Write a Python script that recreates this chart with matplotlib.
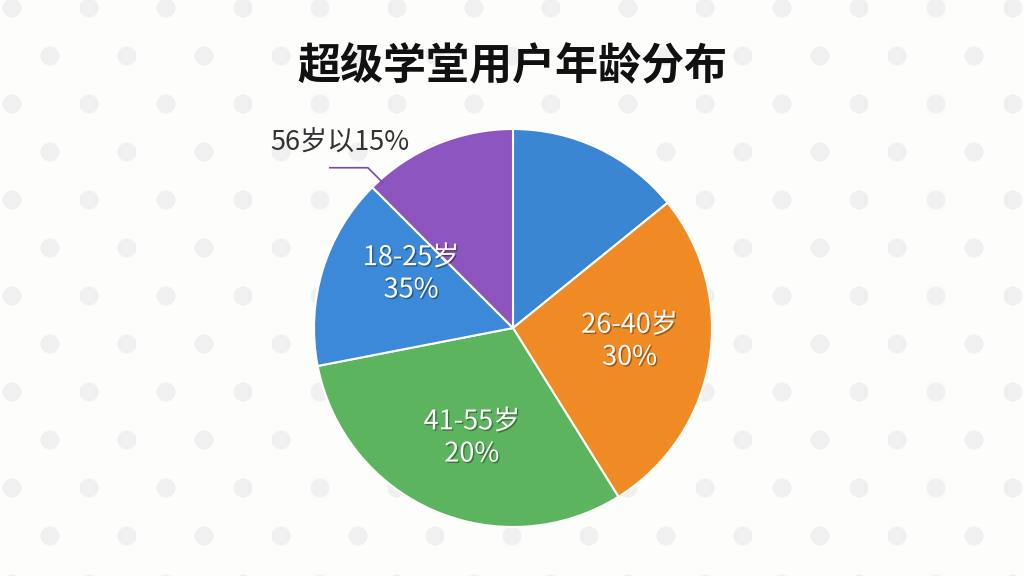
import numpy as np
import matplotlib
matplotlib.use("Agg")
import matplotlib.pyplot as plt
import matplotlib.patheffects as pe

plt.rcParams['font.family'] = ['Noto Sans CJK SC', 'DejaVu Sans']

# wedge sizes as drawn (degrees of the circle), clockwise from 12 o'clock
groups = ["(无标签)", "26-40岁", "41-55岁", "18-25岁", "56岁以上"]
sizes = [51, 97, 111, 56, 45]
shown_text = ["", "26-40岁\n30%", "41-55岁\n20%", "18-25岁\n35%", "56岁以15%"]
colors = ["#3a86d2", "#f08a24", "#5cb55e", "#3b89d8", "#8d55bf"]

title = "超级学堂用户年龄分布"

W, H = 1024, 576
fig = plt.figure(figsize=(W / 100, H / 100), dpi=100)
fig.patch.set_facecolor("#fdfdfc")
ax = fig.add_axes([0, 0, 1, 1])

# dotted background
for j, yy in enumerate(np.arange(8, H + 20, 48)):
    off = 0 if j % 2 == 0 else 38
    for xx in np.arange(12 + off, W + 20, 77):
        ax.add_patch(plt.Circle((xx, H - yy), 9.5, color="#f0f0f0", lw=0, zorder=0))

cx, cy, R = 513, H - 328, 199
wedges, _ = ax.pie(sizes, colors=colors, startangle=90, counterclock=False,
                   center=(cx, cy), radius=R, frame=True,
                   wedgeprops=dict(edgecolor="white", linewidth=1.5))
ax.set_xlim(0, W)
ax.set_ylim(0, H)
ax.set_aspect("equal")
ax.axis("off")

# inside labels: radius fraction and angle nudge per wedge
r_frac = [0, 0.59, 0.59, 0.58, 0]
nudge = [0, 3, 3, -11, 0]
shadow = [pe.withSimplePatchShadow(offset=(1, -1), shadow_rgbFace="black", alpha=0.35)]
for w, txt, rf, dn in zip(wedges, shown_text, r_frac, nudge):
    if rf == 0:
        continue
    mid = np.deg2rad((w.theta1 + w.theta2) / 2 + dn)
    ax.text(cx + rf * R * np.cos(mid), cy + rf * R * np.sin(mid), txt,
            ha="center", va="center", color="white", fontsize=19.5,
            linespacing=1.25, path_effects=shadow)

# outside label for the last wedge with leader line
w = wedges[-1]
a = np.deg2rad(w.theta2 - 0.07 * (w.theta2 - w.theta1))
px, py = cx + R * 0.98 * np.cos(a), cy + R * 0.98 * np.sin(a)
ax.plot([px, px - 15, px - 53], [py, py + 15, py + 15], color="#7a4aa8", lw=1.2)
ax.text(270, py + 40, shown_text[-1], ha="left", va="center",
        color="#333333", fontsize=19.5)

ax.text(W / 2, H - 66, title, ha="center", va="center", fontsize=31,
        fontweight="bold", color="#111111")

fig.savefig("out.png", dpi=100, facecolor=fig.get_facecolor())
